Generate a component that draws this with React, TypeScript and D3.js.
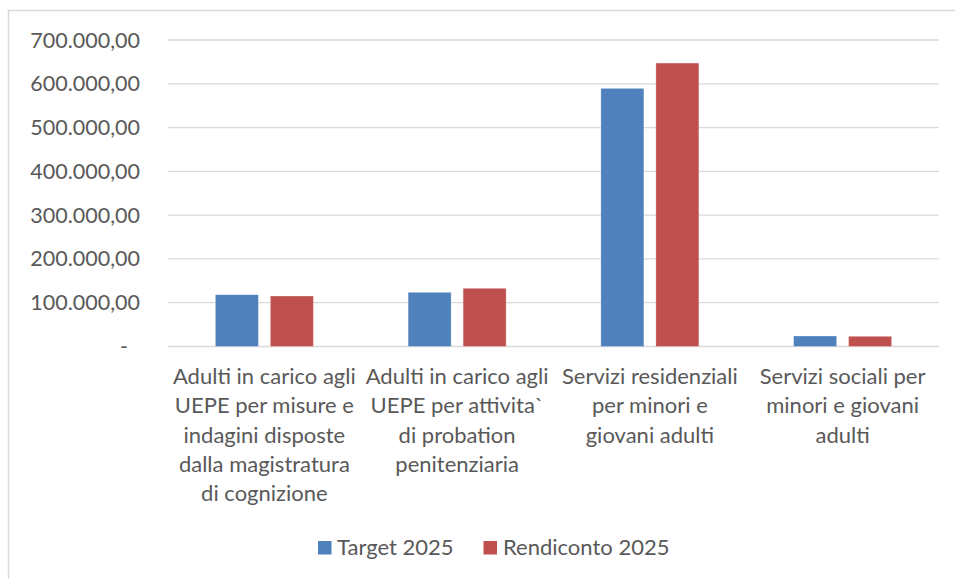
import * as d3 from "d3";

const categories = [
  "Adulti in carico agli UEPE per misure e indagini disposte dalla magistratura di cognizione",
  "Adulti in carico agli UEPE per attivita` di probation penitenziaria",
  "Servizi residenziali per minori e giovani adulti",
  "Servizi sociali per minori e giovani adulti",
];
// line breaks as they appear under the axis
const categoryLines = [
  ["Adulti in carico agli", "UEPE per misure e", "indagini disposte", "dalla magistratura", "di cognizione"],
  ["Adulti in carico agli", "UEPE per attivita`", "di probation", "penitenziaria"],
  ["Servizi residenziali", "per minori e", "giovani adulti"],
  ["Servizi sociali per", "minori e giovani", "adulti"],
];
const seriesNames = ["Target 2025", "Rendiconto 2025"];
const target2025 = [118300, 123700, 589500, 24000];
const rendiconto2025 = [115300, 132900, 647300, 23300];
const yTicks = [0, 100000, 200000, 300000, 400000, 500000, 600000, 700000];

const colors = ["#4f81bd", "#c0504d"];
const textColor = "#595959";
const gridColor = "#d9d9d9";
const font = "Lato, 'Open Sans', sans-serif";

const width = 955;
const height = 579;
const marginLeft = 168;
const marginRight = 16;
const marginTop = 40;
const plotBottom = 346.5;

const fmt = (v: number) =>
  v === 0
    ? "-"
    : d3.format(",.2f")(v).replace(/,/g, "#").replace(".", ",").replace(/#/g, ".");

export default function App() {
  const x0 = d3
    .scaleBand<string>()
    .domain(categories)
    .range([marginLeft, width - marginRight])
    .padding(0);
  const step = x0.bandwidth();
  const x1 = d3
    .scaleBand<string>()
    .domain(seriesNames)
    .range([step / 2 - 49, step / 2 + 49])
    .paddingInner(0.218);
  const y = d3.scaleLinear().domain([0, 700000]).range([plotBottom, marginTop]);
  const values = [target2025, rendiconto2025];

  return (
    <svg
      width={width}
      height={height}
      style={{ position: "absolute", left: 0, top: 0, display: "block", background: "#fff" }}
      fontFamily={font}
    >
      <rect x={8.5} y={10.5} width={1000} height={700} fill="none" stroke={gridColor} strokeWidth={1.5} />

      {/* gridlines */}
      {yTicks.map((t) => (
        <line
          key={t}
          x1={marginLeft}
          x2={width - marginRight}
          y1={y(t)}
          y2={y(t)}
          stroke={gridColor}
          strokeWidth={1.3}
        />
      ))}

      {/* y tick labels */}
      {yTicks.map((t) => (
        <text
          key={"l" + t}
          x={t === 0 ? 128 : 140}
          y={y(t)}
          dy="0.35em"
          textAnchor="end"
          fontSize={21.5}
          fill={textColor}
        >
          {fmt(t)}
        </text>
      ))}

      {/* bars */}
      {categories.map((c, i) => (
        <g key={c} transform={`translate(${x0(c)},0)`}>
          {seriesNames.map((s, j) => (
            <rect
              key={s}
              x={x1(s)}
              y={y(values[j][i])}
              width={x1.bandwidth()}
              height={y(0) - y(values[j][i])}
              fill={colors[j]}
              stroke="#ffffff"
              strokeOpacity={0.35}
              strokeWidth={0.8}
            />
          ))}
        </g>
      ))}

      {/* category labels */}
      {categories.map((c, i) => (
        <text
          key={"c" + c}
          x={(x0(c) as number) + step / 2}
          y={384}
          textAnchor="middle"
          fontSize={22}
          fill={textColor}
        >
          {categoryLines[i].map((ln, k) => (
            <tspan key={k} x={(x0(c) as number) + step / 2} dy={k === 0 ? 0 : 29.3}>
              {ln}
            </tspan>
          ))}
        </text>
      ))}

      {/* legend */}
      <g>
        <rect x={318} y={541} width={13.5} height={13.5} fill={colors[0]} />
        <text x={337} y={555} fontSize={22} fill={textColor}>
          {seriesNames[0]}
        </text>
        <rect x={483.5} y={541} width={13.5} height={13.5} fill={colors[1]} />
        <text x={503} y={555} fontSize={22} fill={textColor}>
          {seriesNames[1]}
        </text>
      </g>
    </svg>
  );
}
